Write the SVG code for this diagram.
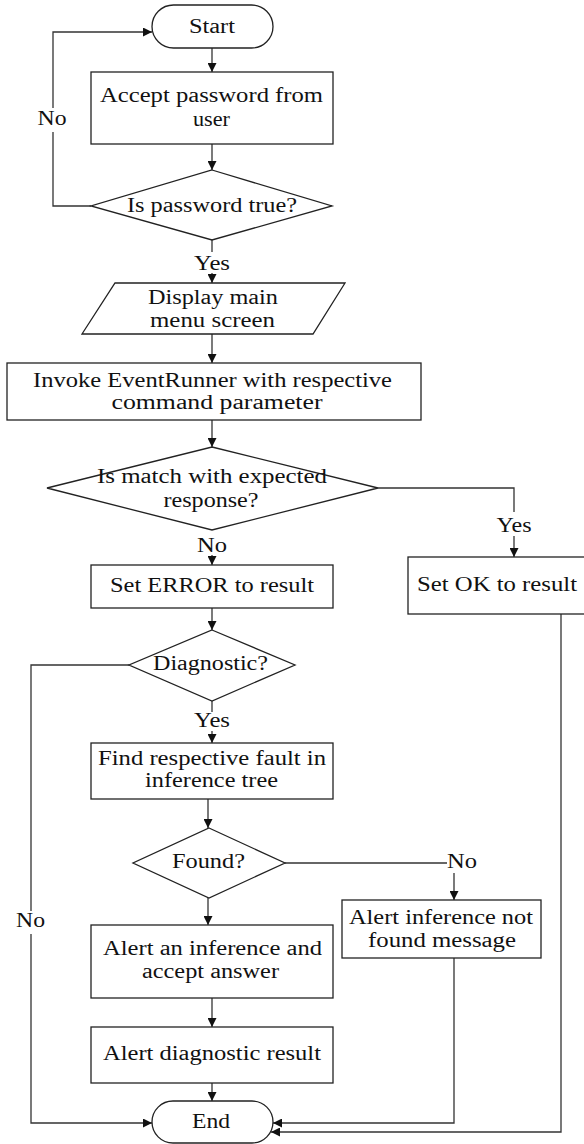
<svg xmlns="http://www.w3.org/2000/svg" width="584" height="1144" viewBox="0 0 584 1144">
<style>
.shape{fill:#fff;stroke:#222;stroke-width:1.3}
.line{fill:none;stroke:#333;stroke-width:1.3}
.arrow{fill:none;stroke:#333;stroke-width:1.3;marker-end:url(#ah)}
text{font-family:"Liberation Serif","Times New Roman",serif;font-size:20px;fill:#111;text-anchor:middle}
</style>
<defs>
<marker id="ah" markerUnits="userSpaceOnUse" markerWidth="9" markerHeight="9" viewBox="0 0 10 10" refX="10" refY="5" orient="auto">
<path d="M0,0 L10,5 L0,10 z" fill="#111"/>
</marker>
</defs>
<rect width="584" height="1144" fill="#fff"/>
<g id="connectors">
<line class="arrow" x1="212" y1="48" x2="212" y2="72"/>
<line class="arrow" x1="212" y1="144" x2="212" y2="170"/>
<polyline class="arrow" points="91,206 53,206 53,32 152,32"/>
<line class="line" x1="212" y1="240" x2="212" y2="252"/>
<line class="arrow" x1="212" y1="273" x2="212" y2="283"/>
<line class="arrow" x1="212" y1="334" x2="212" y2="363"/>
<line class="arrow" x1="212" y1="420" x2="212" y2="447"/>
<polyline class="line" points="378,488 514,488 514,512"/>
<line class="arrow" x1="514" y1="536" x2="514" y2="557"/>
<line class="arrow" x1="212" y1="555" x2="212" y2="565"/>
<line class="arrow" x1="212" y1="608" x2="212" y2="630"/>
<polyline class="line" points="129,665 31,665 31,911"/>
<polyline class="arrow" points="31,934 31,1123 152,1123"/>
<line class="line" x1="212" y1="701" x2="212" y2="712"/>
<line class="arrow" x1="212" y1="731" x2="212" y2="743"/>
<line class="arrow" x1="208" y1="799" x2="208" y2="828"/>
<line class="line" x1="285" y1="863" x2="447" y2="863"/>
<line class="arrow" x1="454" y1="873" x2="454" y2="900"/>
<line class="arrow" x1="208" y1="898" x2="208" y2="925"/>
<line class="arrow" x1="212" y1="998" x2="212" y2="1027"/>
<line class="arrow" x1="212" y1="1083" x2="212" y2="1101"/>
<polyline class="arrow" points="454,958 454,1123 273,1123"/>
<polyline class="arrow" points="561,614 561,1132 271,1132"/>
<rect x="36" y="108" width="34" height="24" fill="#fff"/>
<text x="52" y="125" textLength="29" lengthAdjust="spacingAndGlyphs">No</text>
<text x="212" y="270" textLength="36" lengthAdjust="spacingAndGlyphs">Yes</text>
<text x="514" y="532" textLength="35" lengthAdjust="spacingAndGlyphs">Yes</text>
<text x="212" y="552" textLength="30" lengthAdjust="spacingAndGlyphs">No</text>
<text x="212" y="727" textLength="36" lengthAdjust="spacingAndGlyphs">Yes</text>
<text x="462" y="868" textLength="30" lengthAdjust="spacingAndGlyphs">No</text>
<text x="30.5" y="927" textLength="29" lengthAdjust="spacingAndGlyphs">No</text>
</g>
<g id="start">
<rect class="shape" x="152" y="5" width="121" height="43" rx="21.5" ry="21.5"/>
<text x="212" y="33" textLength="46" lengthAdjust="spacingAndGlyphs">Start</text>
</g>
<g id="accept">
<rect class="shape" x="91" y="72" width="242" height="72"/>
<text x="211.5" y="102" textLength="223" lengthAdjust="spacingAndGlyphs">Accept password from</text>
<text x="211.5" y="126" textLength="37" lengthAdjust="spacingAndGlyphs">user</text>
</g>
<g id="check-password">
<polygon class="shape" points="212,170 332,206 212,240 91,206"/>
<text x="212" y="212" textLength="170" lengthAdjust="spacingAndGlyphs">Is password true?</text>
</g>
<g id="display-menu">
<polygon class="shape" points="115,283 345,283 313,334 82,334"/>
<text x="213" y="304" textLength="130" lengthAdjust="spacingAndGlyphs">Display main</text>
<text x="212.5" y="327" textLength="125" lengthAdjust="spacingAndGlyphs">menu screen</text>
</g>
<g id="invoke">
<rect class="shape" x="7" y="363" width="414" height="57"/>
<text x="212.5" y="387" textLength="359" lengthAdjust="spacingAndGlyphs">Invoke EventRunner with respective</text>
<text x="217" y="409" textLength="211" lengthAdjust="spacingAndGlyphs">command parameter</text>
</g>
<g id="check-match">
<polygon class="shape" points="212,447 378,488 212,530 47,488"/>
<text x="212" y="483" textLength="230" lengthAdjust="spacingAndGlyphs">Is match with expected</text>
<text x="211" y="507" textLength="95" lengthAdjust="spacingAndGlyphs">response?</text>
</g>
<g id="set-ok">
<rect class="shape" x="408" y="557" width="180" height="57"/>
<text x="497" y="591" textLength="160" lengthAdjust="spacingAndGlyphs">Set OK to result</text>
</g>
<g id="set-error">
<rect class="shape" x="91" y="565" width="242" height="43"/>
<text x="212" y="592" textLength="204" lengthAdjust="spacingAndGlyphs">Set ERROR to result</text>
</g>
<g id="diagnostic">
<polygon class="shape" points="212,630 295,665 212,701 129,665"/>
<text x="210.5" y="670" textLength="115" lengthAdjust="spacingAndGlyphs">Diagnostic?</text>
</g>
<g id="find-fault">
<rect class="shape" x="91" y="743" width="242" height="56"/>
<text x="212" y="765" textLength="228" lengthAdjust="spacingAndGlyphs">Find respective fault in</text>
<text x="211.5" y="787" textLength="133" lengthAdjust="spacingAndGlyphs">inference tree</text>
</g>
<g id="found">
<polygon class="shape" points="209,828 285,863 209,898 133,863"/>
<text x="208.5" y="868" textLength="73" lengthAdjust="spacingAndGlyphs">Found?</text>
</g>
<g id="not-found">
<rect class="shape" x="342" y="900" width="199" height="58"/>
<text x="441" y="924" textLength="184" lengthAdjust="spacingAndGlyphs">Alert inference not</text>
<text x="442" y="947" textLength="148" lengthAdjust="spacingAndGlyphs">found message</text>
</g>
<g id="alert-inference">
<rect class="shape" x="91" y="925" width="242" height="73"/>
<text x="212.5" y="955" textLength="219" lengthAdjust="spacingAndGlyphs">Alert an inference and</text>
<text x="210.5" y="978" textLength="137" lengthAdjust="spacingAndGlyphs">accept answer</text>
</g>
<g id="alert-result">
<rect class="shape" x="91" y="1027" width="242" height="56"/>
<text x="212" y="1060" textLength="218" lengthAdjust="spacingAndGlyphs">Alert diagnostic result</text>
</g>
<g id="end">
<rect class="shape" x="152" y="1101" width="121" height="42" rx="21" ry="21"/>
<text x="211" y="1128" textLength="38" lengthAdjust="spacingAndGlyphs">End</text>
</g>
</svg>
